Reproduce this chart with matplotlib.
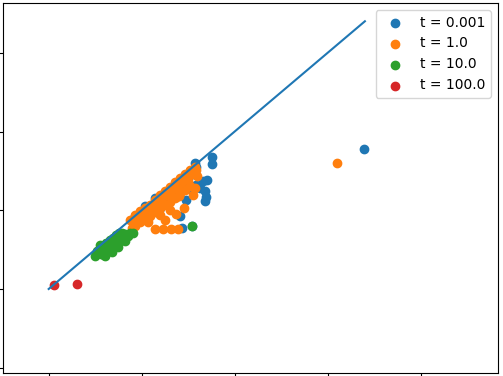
import matplotlib
matplotlib.use("Agg")
import matplotlib.pyplot as plt
import numpy as np

labels = ["t = 0.001", "t = 1.0", "t = 10.0", "t = 100.0"]

blue_x = [3.39, 1.756, 1.756, 1.702, 1.659, 1.681, 1.691, 1.681, 1.584, 1.562, 1.509, 1.466,
          1.584, 1.541, 1.627, 1.412, 1.433, 1.541, 0.928, 1.035, 1.143, 1.250, 1.358, 1.466,
          1.519, 1.573, 1.390, 1.476, 1.304, 1.197, 1.089]
blue_y = [1.778, 1.676, 1.587, 1.384, 1.371, 1.244, 1.168, 1.117, 1.549, 1.486, 1.435, 1.346,
          1.321, 1.257, 1.283, 0.927, 0.775, 0.800, 0.925, 1.050, 1.150, 1.215, 1.320, 1.420,
          1.500, 1.600, 1.181, 1.130, 1.130, 1.029, 0.952]

orange_x = [3.100, 0.874, 0.928, 0.982, 1.035, 1.089, 1.143, 1.197, 1.250, 1.304, 1.358, 1.412,
            1.466, 1.519, 1.573, 0.928, 0.982, 1.035, 1.089, 1.143, 1.197, 1.250, 1.304, 1.358,
            1.412, 1.466, 1.519, 1.304, 1.197, 1.068, 1.143, 1.229, 1.315, 1.390, 1.455, 1.401,
            1.595, 1.584, 1.573, 1.552, 1.369, 1.250,
            0.95, 1.01, 1.06, 1.12, 1.17, 1.23, 1.28, 1.33, 1.38, 1.44, 1.49, 1.54,
            0.90, 1.00, 1.10, 1.20, 1.30, 1.40, 1.50]
orange_y = [1.600, 0.880, 0.935, 0.990, 1.030, 1.070, 1.125, 1.195, 1.250, 1.300, 1.355, 1.410,
            1.460, 1.515, 1.550, 0.800, 0.851, 0.902, 0.927, 0.978, 1.029, 1.067, 1.105, 1.156,
            1.219, 1.257, 1.308, 1.003, 0.940, 0.851, 0.762, 0.762, 0.762, 0.762, 1.029, 1.181,
            1.435, 1.511, 1.283, 1.194, 0.952, 0.876,
            0.87, 0.93, 0.98, 1.04, 1.09, 1.15, 1.20, 1.25, 1.30, 1.36, 1.41, 1.46,
            0.78, 0.88, 0.96, 1.07, 1.17, 1.27, 1.37]

green_x = [0.52, 0.56, 0.59, 0.63, 0.66, 0.58, 0.55, 0.62, 0.66, 0.69, 0.72, 0.76, 0.79, 0.82,
           0.87, 0.91, 0.75, 0.71, 0.77, 0.64, 0.68, 0.60, 0.54, 0.73, 0.80, 1.54,
           0.61, 0.68, 0.745, 0.82, 0.50, 0.85]
green_y = [0.48, 0.44, 0.47, 0.51, 0.50, 0.53, 0.56, 0.58, 0.62, 0.65, 0.69, 0.71, 0.71, 0.70,
           0.71, 0.71, 0.57, 0.62, 0.65, 0.55, 0.57, 0.43, 0.50, 0.60, 0.68, 0.80,
           0.42, 0.47, 0.53, 0.61, 0.42, 0.67]

red_x = [0.057, 0.304]
red_y = [0.051, 0.063]

line_x = [0.0, 3.4]
line_y = [0.0, 3.4]

fig = plt.figure(figsize=(5.03, 3.76), dpi=100)
ax = fig.add_axes([3 / 503, 3.3 / 376, 495 / 503, 369.7 / 376])

for xs, ys, lab in zip([blue_x, orange_x, green_x, red_x],
                       [blue_y, orange_y, green_y, red_y], labels):
    ax.scatter(xs, ys, label=lab)
ax.plot(line_x, line_y, color="C0")

ax.set_xlim(-0.491, 4.831)
ax.set_ylim(-1.063, 3.632)
ax.set_xticks([0, 1, 2, 3, 4])
ax.set_yticks([-1, 0, 1, 2, 3])
ax.tick_params(labelleft=False, labelbottom=False)
ax.legend(loc="upper right")

fig.savefig("out.png", dpi=100)
